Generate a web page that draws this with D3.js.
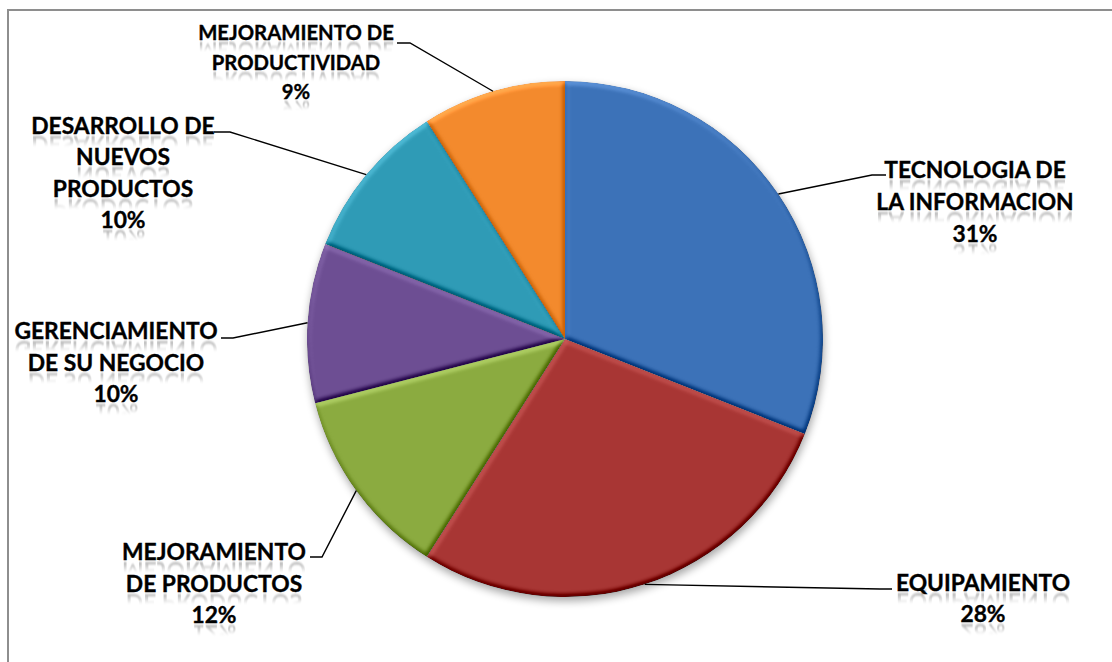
<!DOCTYPE html>
<html>
<head>
<meta charset="utf-8">
<script src="https://cdn.jsdelivr.net/npm/d3@7"></script>
<style>
  html, body { margin: 0; padding: 0; background: #fff; }
  svg { display: block; }
  text { font-family: "Lato", "Open Sans", sans-serif; font-weight: 700; }
</style>
</head>
<body>
<svg id="chart" width="1112" height="662"></svg>
<script>
// Category names, shares (%) and label lines
const categories = [
  "TECNOLOGIA DE LA INFORMACION",
  "EQUIPAMIENTO",
  "MEJORAMIENTO DE PRODUCTOS",
  "GERENCIAMIENTO DE SU NEGOCIO",
  "DESARROLLO DE NUEVOS PRODUCTOS",
  "MEJORAMIENTO DE PRODUCTIVIDAD"
];
const values = [31, 28, 12, 10, 10, 9];
const labelLines = [
  ["TECNOLOGIA DE", "LA INFORMACION"],
  ["EQUIPAMIENTO"],
  ["MEJORAMIENTO", "DE PRODUCTOS"],
  ["GERENCIAMIENTO", "DE SU NEGOCIO"],
  ["DESARROLLO DE", "NUEVOS", "PRODUCTOS"],
  ["MEJORAMIENTO DE", "PRODUCTIVIDAD"]
];
const colors = ["#3c72b8", "#a83634", "#8bab40", "#6d4e93", "#2f9bb6", "#f38a2d"];

// Label placement: text centre, first baseline, line step, leader elbow and end
const labelLayout = [
  { x: 975, y: 178, step: 32, size: 22.8, elbow: [872, 175], end: [886, 175] },
  { x: 983, y: 591, step: 31, size: 22.8, elbow: [880, 589], end: [892, 589] },
  { x: 214, y: 560, step: 31.5, size: 22.8, elbow: [322, 557], end: [310, 557] },
  { x: 116, y: 339, step: 31.5, size: 22.8, elbow: [233, 338], end: [221, 338] },
  { x: 123, y: 134, step: 31.3, size: 22.8, elbow: [230, 132], end: [214, 132] },
  { x: 296, y: 40, step: 29.5, size: 20.3, elbow: [410, 43], end: [397, 43] }
];

const svg = d3.select("#chart");
const cx = 565, cy = 339, radius = 258;
const total = d3.sum(values);
const pct = d3.format(".0%");

const defs = svg.append("defs");

// Soft shadow under the pie
const shadow = defs.append("filter").attr("id", "pieShadow")
  .attr("x", "-20%").attr("y", "-20%").attr("width", "140%").attr("height", "140%");
shadow.append("feGaussianBlur").attr("stdDeviation", 4);

// Bevel lighting applied to each slice
const bevel = defs.append("filter").attr("id", "bevel")
  .attr("color-interpolation-filters", "sRGB")
  .attr("x", "-5%").attr("y", "-5%").attr("width", "110%").attr("height", "110%");
bevel.append("feGaussianBlur").attr("in", "SourceAlpha").attr("stdDeviation", 2.6).attr("result", "blur");
bevel.append("feDiffuseLighting").attr("in", "blur").attr("surfaceScale", 3.2)
  .attr("diffuseConstant", 1).attr("lighting-color", "#fff").attr("result", "light")
  .append("feDistantLight").attr("azimuth", 250).attr("elevation", 45);
bevel.append("feComposite").attr("in", "SourceGraphic").attr("in2", "light")
  .attr("operator", "arithmetic").attr("k1", 0).attr("k2", 1).attr("k3", 0.42).attr("k4", -0.297)
  .attr("result", "lit");
bevel.append("feComposite").attr("in", "lit").attr("in2", "SourceAlpha").attr("operator", "in");

// Fading gradient and slight blur for the mirrored text reflections
const refl = defs.append("linearGradient").attr("id", "reflGrad")
  .attr("x1", 0).attr("y1", 0).attr("x2", 0).attr("y2", 1);
refl.append("stop").attr("offset", 0.45).attr("stop-color", "#000").attr("stop-opacity", 0);
refl.append("stop").attr("offset", 0.82).attr("stop-color", "#000").attr("stop-opacity", 0.3);
defs.append("filter").attr("id", "reflBlur")
  .attr("x", "-5%").attr("y", "-20%").attr("width", "110%").attr("height", "140%")
  .append("feGaussianBlur").attr("stdDeviation", "0.6 1");

// Chart frame
svg.append("rect")
  .attr("x", 8).attr("y", 10).attr("width", 1300).attr("height", 800)
  .attr("fill", "none").attr("stroke", "#8e8e8e").attr("stroke-width", 2);

const pie = d3.pie().sort(null).value(d => d);
const arcs = pie(values);
const arc = d3.arc().innerRadius(0).outerRadius(radius);

const g = svg.append("g").attr("transform", `translate(${cx},${cy})`);

g.append("circle").attr("cx", 1).attr("cy", 4).attr("r", radius)
  .attr("fill", "#000").attr("opacity", 0.35).attr("filter", "url(#pieShadow)");

g.selectAll("path.slice").data(arcs).join("path")
  .attr("class", "slice")
  .attr("d", arc)
  .attr("fill", (d, i) => colors[i])
  .attr("filter", "url(#bevel)");

// Leader lines from each slice's outer edge to its label
const leader = d3.line();
arcs.forEach((a, i) => {
  const mid = (a.startAngle + a.endAngle) / 2;
  const p0 = [cx + radius * Math.sin(mid), cy - radius * Math.cos(mid)];
  const L = labelLayout[i];
  svg.append("path")
    .attr("d", leader([p0, L.elbow, L.end]))
    .attr("fill", "none").attr("stroke", "#000").attr("stroke-width", 1.4);
});

// Labels: category lines plus the percentage, each with a faint reflection
arcs.forEach((a, i) => {
  const L = labelLayout[i];
  const lines = labelLines[i].concat([pct(values[i] / total)]);
  lines.forEach((t, k) => {
    const by = L.y + k * L.step;
    svg.append("text")
      .attr("x", L.x).attr("y", by)
      .attr("text-anchor", "middle")
      .attr("font-size", L.size)
      .attr("fill", "url(#reflGrad)")
      .attr("filter", "url(#reflBlur)")
      .attr("transform", `translate(0,${2 * by + 2}) scale(1,-1)`)
      .text(t);
    svg.append("text")
      .attr("x", L.x).attr("y", by)
      .attr("text-anchor", "middle")
      .attr("font-size", L.size)
      .attr("fill", "#000")
      .attr("stroke", "#000").attr("stroke-width", 0.35)
      .text(t);
  });
});
</script>
</body>
</html>
